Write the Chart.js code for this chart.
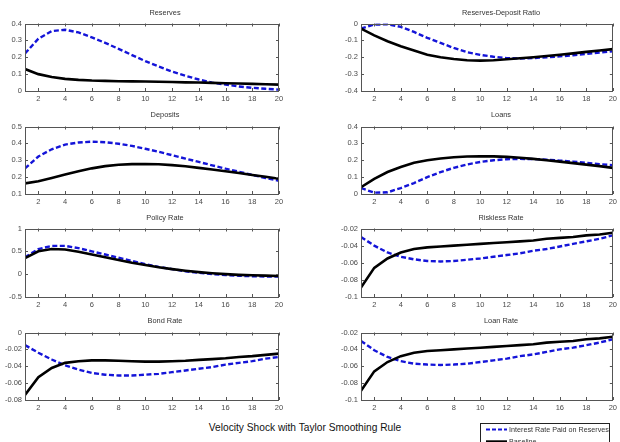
<!DOCTYPE html>
<html>
<head>
<meta charset="utf-8">
<script src="https://cdn.jsdelivr.net/npm/chart.js@4/dist/chart.umd.min.js"></script>
<style>
  html, body { margin: 0; padding: 0; background: #fff; }
  body { width: 620px; height: 442px; position: relative; overflow: hidden; font-family: "Liberation Sans", Arial, sans-serif; }
  .panel { position: absolute; }
  .ptitle { position: absolute; font-size: 7.4px; color: #333; white-space: nowrap; transform: translateX(-50%); line-height: 9px; }
  #mainTitle { position: absolute; left: 305px; top: 422px; transform: translateX(-50%); font-size: 10.2px; color: #111; white-space: nowrap; }
  #legend { position: absolute; left: 480px; top: 423px; width: 128px; height: 30px; border: 1px solid #222; background: #fff; font-size: 7.2px; color: #333; }
  .lrow { position: absolute; left: 5px; height: 9px; line-height: 9px; white-space: nowrap; }
  .lrow svg { position: absolute; left: 0; top: 0; }
  .lrow span { position: absolute; left: 23px; top: 0; }
</style>
</head>
<body>
<script>
// Impulse-response horizon (quarters)
const periods = [1, 2, 3, 4, 5, 6, 7, 8, 9, 10, 11, 12, 13, 14, 15, 16, 17, 18, 19, 20];
const xTicks = [2, 4, 6, 8, 10, 12, 14, 16, 18, 20];

// Interest rate paid on reserves (IOR) vs. baseline responses
const reservesIOR  = [0.222, 0.31, 0.355, 0.363, 0.347, 0.318, 0.285, 0.25, 0.213, 0.177, 0.145, 0.115, 0.09, 0.068, 0.05, 0.038, 0.027, 0.019, 0.013, 0.008];
const reservesBase = [0.13, 0.1, 0.083, 0.072, 0.066, 0.062, 0.06, 0.058, 0.057, 0.056, 0.055, 0.053, 0.051, 0.05, 0.048, 0.046, 0.044, 0.042, 0.04, 0.038];

const ratioIOR  = [-0.03, -0.006, -0.005, -0.02, -0.05, -0.085, -0.115, -0.145, -0.17, -0.186, -0.197, -0.205, -0.207, -0.205, -0.2, -0.195, -0.188, -0.18, -0.172, -0.165];
const ratioBase = [-0.03, -0.07, -0.105, -0.135, -0.16, -0.185, -0.2, -0.21, -0.218, -0.22, -0.218, -0.212, -0.206, -0.2, -0.193, -0.185, -0.177, -0.168, -0.16, -0.152];

const depositsIOR  = [0.252, 0.322, 0.365, 0.393, 0.405, 0.41, 0.407, 0.398, 0.385, 0.368, 0.35, 0.33, 0.31, 0.29, 0.27, 0.25, 0.232, 0.213, 0.195, 0.178];
const depositsBase = [0.163, 0.175, 0.195, 0.215, 0.235, 0.252, 0.265, 0.273, 0.277, 0.278, 0.276, 0.271, 0.264, 0.255, 0.245, 0.235, 0.224, 0.213, 0.202, 0.19];

const loansIOR  = [0.035, 0.008, 0.01, 0.035, 0.065, 0.1, 0.13, 0.155, 0.175, 0.19, 0.2, 0.206, 0.208, 0.207, 0.204, 0.198, 0.192, 0.185, 0.177, 0.17];
const loansBase = [0.04, 0.09, 0.13, 0.16, 0.185, 0.2, 0.21, 0.218, 0.222, 0.224, 0.223, 0.22, 0.215, 0.208, 0.2, 0.192, 0.183, 0.174, 0.165, 0.155];

const policyIOR  = [0.37, 0.55, 0.62, 0.62, 0.57, 0.5, 0.43, 0.36, 0.29, 0.22, 0.16, 0.11, 0.065, 0.03, 0.0, -0.02, -0.035, -0.045, -0.05, -0.05];
const policyBase = [0.35, 0.5, 0.55, 0.54, 0.49, 0.43, 0.37, 0.31, 0.25, 0.2, 0.15, 0.11, 0.075, 0.045, 0.02, 0.0, -0.015, -0.025, -0.033, -0.04];

const risklessIOR  = [-0.03, -0.04, -0.048, -0.053, -0.056, -0.058, -0.0585, -0.058, -0.0565, -0.055, -0.053, -0.051, -0.049, -0.046, -0.044, -0.041, -0.038, -0.035, -0.032, -0.028];
const risklessBase = [-0.089, -0.066, -0.055, -0.048, -0.044, -0.042, -0.041, -0.04, -0.039, -0.038, -0.037, -0.036, -0.035, -0.034, -0.032, -0.031, -0.03, -0.028, -0.027, -0.025];

const bondIOR  = [-0.015, -0.024, -0.032, -0.039, -0.044, -0.048, -0.05, -0.051, -0.051, -0.05, -0.049, -0.047, -0.045, -0.043, -0.041, -0.038, -0.036, -0.034, -0.031, -0.029];
const bondBase = [-0.074, -0.053, -0.042, -0.036, -0.034, -0.033, -0.033, -0.0335, -0.034, -0.0345, -0.0345, -0.034, -0.0335, -0.0325, -0.0315, -0.0305, -0.029, -0.028, -0.0265, -0.025];

const loanRateIOR  = [-0.03, -0.041, -0.049, -0.054, -0.057, -0.058, -0.0585, -0.058, -0.057, -0.055, -0.053, -0.051, -0.048, -0.046, -0.043, -0.04, -0.038, -0.035, -0.032, -0.028];
const loanRateBase = [-0.089, -0.066, -0.055, -0.048, -0.044, -0.042, -0.041, -0.04, -0.039, -0.038, -0.037, -0.036, -0.035, -0.034, -0.032, -0.031, -0.03, -0.028, -0.027, -0.025];

// y-axis tick labels per panel
const reservesTicks = [0, 0.1, 0.2, 0.3, 0.4];
const ratioTicks    = [-0.4, -0.3, -0.2, -0.1, 0];
const depositsTicks = [0.1, 0.2, 0.3, 0.4, 0.5];
const loansTicks    = [0, 0.1, 0.2, 0.3, 0.4];
const policyTicks   = [-0.5, 0, 0.5, 1];
const risklessTicks = [-0.1, -0.08, -0.06, -0.04, -0.02];
const bondTicks     = [-0.08, -0.06, -0.04, -0.02, 0];
const loanRateTicks = [-0.1, -0.08, -0.06, -0.04, -0.02];

const seriesNames = ["Interest Rate Paid on Reserves", "Baseline"];

// Panel layout: column / row placement of each small-multiple
const panels = [
  { title: "Reserves",               col: 0, row: 0, ior: reservesIOR,  base: reservesBase,  ticks: reservesTicks },
  { title: "Reserves-Deposit Ratio", col: 1, row: 0, ior: ratioIOR,     base: ratioBase,     ticks: ratioTicks },
  { title: "Deposits",               col: 0, row: 1, ior: depositsIOR,  base: depositsBase,  ticks: depositsTicks },
  { title: "Loans",                  col: 1, row: 1, ior: loansIOR,     base: loansBase,     ticks: loansTicks },
  { title: "Policy Rate",            col: 0, row: 2, ior: policyIOR,    base: policyBase,    ticks: policyTicks },
  { title: "Riskless Rate",          col: 1, row: 2, ior: risklessIOR,  base: risklessBase,  ticks: risklessTicks },
  { title: "Bond Rate",              col: 0, row: 3, ior: bondIOR,      base: bondBase,      ticks: bondTicks },
  { title: "Loan Rate",              col: 1, row: 3, ior: loanRateIOR,  base: loanRateBase,  ticks: loanRateTicks }
];

const colGeom = [
  { left: 0,   width: 290, yAxisW: 25, padRight: 11, titleX: 165 },
  { left: 310, width: 310, yAxisW: 51, padRight: 5,  titleX: 501 }
];
const rowGeom = [
  { top: 21,  bottom: 91,  titleY: 8 },
  { top: 124, bottom: 194, titleY: 110 },
  { top: 226, bottom: 297, titleY: 213 },
  { top: 330, bottom: 400, titleY: 316 }
];
const PAD_TOP = 5, X_AXIS_H = 16;

const TICK_FONT = { family: "'Liberation Sans', Arial, sans-serif", size: 7.5 };
const TICK_COLOR = "#4a4a4a";
const FRAME_COLOR = "#555";

// Box around the axes with inward tick marks on all four sides
const axesFrame = {
  id: "axesFrame",
  afterDraw(chart) {
    const { ctx, chartArea: a, scales } = chart;
    const len = 3;
    ctx.save();
    ctx.strokeStyle = FRAME_COLOR;
    ctx.lineWidth = 1;
    ctx.strokeRect(Math.round(a.left) + 0.5, Math.round(a.top) + 0.5,
                   Math.round(a.right - a.left) - 1, Math.round(a.bottom - a.top) - 1);
    ctx.beginPath();
    scales.x.ticks.forEach(t => {
      const px = Math.round(scales.x.getPixelForValue(t.value)) + 0.5;
      ctx.moveTo(px, a.bottom); ctx.lineTo(px, a.bottom - len);
      ctx.moveTo(px, a.top); ctx.lineTo(px, a.top + len);
    });
    scales.y.ticks.forEach(t => {
      const py = Math.round(scales.y.getPixelForValue(t.value)) + 0.5;
      ctx.moveTo(a.left, py); ctx.lineTo(a.left + len, py);
      ctx.moveTo(a.right, py); ctx.lineTo(a.right - len, py);
    });
    ctx.stroke();
    ctx.restore();
  }
};

function toPoints(values) {
  return values.map((v, i) => ({ x: periods[i], y: v }));
}

panels.forEach(p => {
  const cg = colGeom[p.col], rg = rowGeom[p.row];
  const top = rg.top - PAD_TOP;
  const height = (rg.bottom - rg.top) + PAD_TOP + X_AXIS_H;

  const wrap = document.createElement("div");
  wrap.className = "panel";
  wrap.style.left = cg.left + "px";
  wrap.style.top = top + "px";
  const canvas = document.createElement("canvas");
  canvas.width = cg.width;
  canvas.height = height;
  canvas.style.width = cg.width + "px";
  canvas.style.height = height + "px";
  wrap.appendChild(canvas);
  document.body.appendChild(wrap);

  const t = document.createElement("div");
  t.className = "ptitle";
  t.textContent = p.title;
  t.style.left = cg.titleX + "px";
  t.style.top = rg.titleY + "px";
  document.body.appendChild(t);

  new Chart(canvas, {
    type: "line",
    data: {
      datasets: [
        {
          label: seriesNames[1],
          data: toPoints(p.base),
          borderColor: "#000000",
          borderWidth: 2.6,
          pointRadius: 0,
          tension: 0,
          fill: false
        },
        {
          label: seriesNames[0],
          data: toPoints(p.ior),
          borderColor: "#1414d8",
          borderWidth: 2.4,
          borderDash: [5, 2.5],
          pointRadius: 0,
          tension: 0,
          fill: false
        }
      ]
    },
    options: {
      responsive: false,
      animation: false,
      devicePixelRatio: 1,
      layout: { padding: { top: PAD_TOP, right: cg.padRight, left: 0, bottom: 0 } },
      plugins: { legend: { display: false }, tooltip: { enabled: false }, title: { display: false } },
      scales: {
        x: {
          type: "linear",
          min: periods[0],
          max: periods[periods.length - 1],
          grid: { display: false, drawTicks: false },
          border: { display: false },
          afterBuildTicks: s => { s.ticks = xTicks.map(v => ({ value: v })); },
          afterFit: s => { s.height = X_AXIS_H; },
          ticks: { font: TICK_FONT, color: TICK_COLOR, padding: 3, maxRotation: 0, autoSkip: false, callback: v => String(v) }
        },
        y: {
          type: "linear",
          min: p.ticks[0],
          max: p.ticks[p.ticks.length - 1],
          grid: { display: false, drawTicks: false },
          border: { display: false },
          afterBuildTicks: s => { s.ticks = p.ticks.map(v => ({ value: v })); },
          afterFit: s => { s.width = cg.yAxisW; },
          ticks: { font: TICK_FONT, color: TICK_COLOR, padding: 3, autoSkip: false, callback: v => String(v) }
        }
      }
    },
    plugins: [axesFrame]
  });
});
</script>

<div id="mainTitle">Velocity Shock with Taylor Smoothing Rule</div>

<div id="legend">
  <div class="lrow" style="top: 1px;">
    <svg width="22" height="9"><line x1="0" y1="4.5" x2="21" y2="4.5" stroke="#1414d8" stroke-width="2.2" stroke-dasharray="4 2"/></svg>
    <span id="lg0"></span>
  </div>
  <div class="lrow" style="top: 13px;">
    <svg width="22" height="9"><line x1="0" y1="4.5" x2="21" y2="4.5" stroke="#000" stroke-width="2.4"/></svg>
    <span id="lg1"></span>
  </div>
</div>
<script>
  document.getElementById("lg0").textContent = seriesNames[0];
  document.getElementById("lg1").textContent = seriesNames[1];
</script>
</body>
</html>
